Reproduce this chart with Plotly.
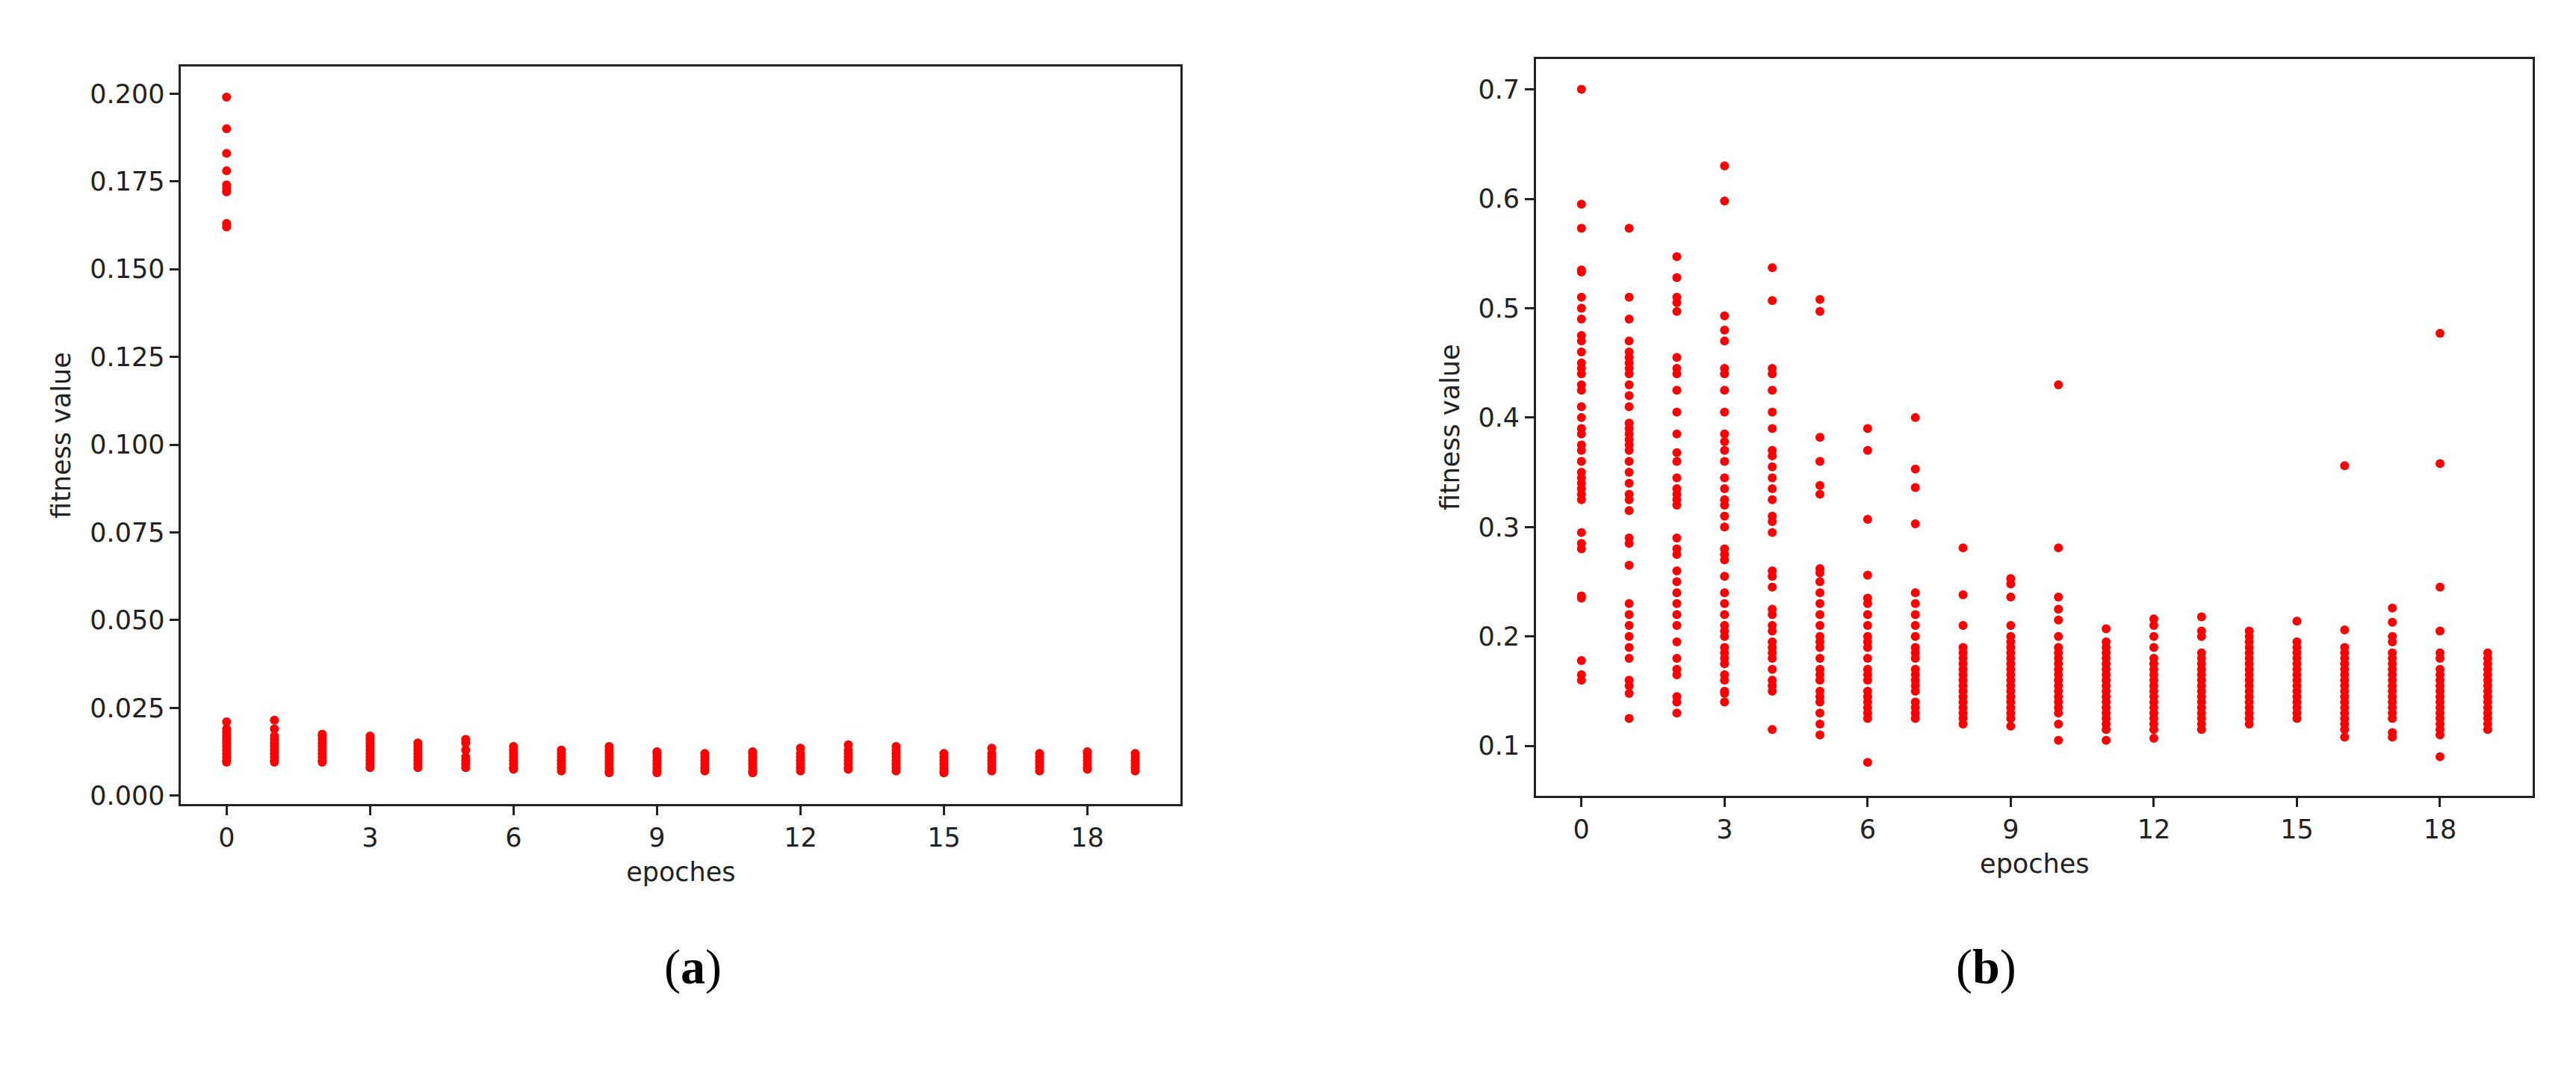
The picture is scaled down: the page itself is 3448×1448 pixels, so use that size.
import plotly.graph_objects as go

# (a) fitness values per epoch
fit_a = {
    0: [0.199, 0.190, 0.183, 0.178, 0.174, 0.173, 0.172, 0.163, 0.162,
        0.021, 0.019, 0.018, 0.017, 0.016, 0.015, 0.014, 0.013, 0.012, 0.011, 0.010, 0.0095],
    1: [0.0215, 0.019, 0.017, 0.016, 0.015, 0.014, 0.013, 0.012, 0.011, 0.010, 0.0095],
    2: [0.0175, 0.017, 0.016, 0.015, 0.014, 0.013, 0.012, 0.011, 0.010, 0.0095],
    3: [0.017, 0.016, 0.015, 0.014, 0.013, 0.012, 0.011, 0.010, 0.009, 0.008],
    4: [0.015, 0.014, 0.013, 0.012, 0.011, 0.010, 0.009, 0.008],
    5: [0.016, 0.015, 0.013, 0.011, 0.010, 0.009, 0.008],
    6: [0.014, 0.013, 0.012, 0.011, 0.010, 0.009, 0.008, 0.0075],
    7: [0.013, 0.012, 0.011, 0.010, 0.009, 0.008, 0.007],
    8: [0.014, 0.013, 0.012, 0.011, 0.010, 0.009, 0.008, 0.007, 0.0065],
    9: [0.0125, 0.012, 0.011, 0.010, 0.009, 0.008, 0.007, 0.0065],
    10: [0.012, 0.011, 0.010, 0.009, 0.008, 0.007],
    11: [0.0125, 0.012, 0.011, 0.010, 0.009, 0.008, 0.007, 0.0065],
    12: [0.0135, 0.012, 0.011, 0.010, 0.009, 0.008, 0.007],
    13: [0.0145, 0.013, 0.012, 0.011, 0.010, 0.009, 0.008, 0.0075],
    14: [0.014, 0.013, 0.012, 0.011, 0.010, 0.009, 0.008, 0.007],
    15: [0.012, 0.011, 0.010, 0.009, 0.008, 0.007, 0.0065],
    16: [0.0135, 0.012, 0.011, 0.010, 0.009, 0.008, 0.007],
    17: [0.012, 0.011, 0.010, 0.009, 0.008, 0.007],
    18: [0.0125, 0.012, 0.011, 0.010, 0.009, 0.008, 0.0075],
    19: [0.012, 0.011, 0.010, 0.009, 0.008, 0.007],
}

# (b) fitness values per epoch
fit_b = {
    0: [0.70, 0.595, 0.573, 0.535, 0.533, 0.51, 0.50, 0.49, 0.475, 0.47, 0.46, 0.45, 0.445, 0.44,
        0.43, 0.425, 0.41, 0.40, 0.39, 0.385, 0.375, 0.37, 0.36, 0.35, 0.345, 0.34, 0.335, 0.33,
        0.325, 0.295, 0.285, 0.28, 0.237, 0.235, 0.178, 0.165, 0.16],
    1: [0.573, 0.51, 0.49, 0.47, 0.46, 0.455, 0.45, 0.445, 0.44, 0.43, 0.42, 0.41, 0.395, 0.39,
        0.385, 0.38, 0.375, 0.37, 0.36, 0.35, 0.34, 0.33, 0.325, 0.315, 0.29, 0.285, 0.265, 0.23,
        0.22, 0.21, 0.20, 0.19, 0.18, 0.16, 0.155, 0.148, 0.125],
    2: [0.547, 0.528, 0.51, 0.505, 0.497, 0.455, 0.445, 0.44, 0.425, 0.405, 0.385, 0.368, 0.36,
        0.345, 0.335, 0.33, 0.325, 0.32, 0.29, 0.28, 0.275, 0.26, 0.25, 0.24, 0.23, 0.22, 0.21,
        0.195, 0.18, 0.17, 0.165, 0.145, 0.14, 0.13],
    3: [0.63, 0.598, 0.493, 0.48, 0.47, 0.445, 0.44, 0.425, 0.405, 0.385, 0.378, 0.37, 0.36, 0.345,
        0.335, 0.325, 0.32, 0.31, 0.30, 0.28, 0.275, 0.27, 0.255, 0.24, 0.23, 0.22, 0.21, 0.205,
        0.20, 0.19, 0.185, 0.18, 0.175, 0.165, 0.16, 0.15, 0.148, 0.14],
    4: [0.537, 0.507, 0.445, 0.44, 0.425, 0.405, 0.39, 0.37, 0.365, 0.355, 0.345, 0.335, 0.325,
        0.31, 0.305, 0.295, 0.26, 0.255, 0.245, 0.225, 0.22, 0.21, 0.205, 0.195, 0.19, 0.185,
        0.18, 0.17, 0.16, 0.155, 0.15, 0.115],
    5: [0.508, 0.497, 0.382, 0.36, 0.338, 0.33, 0.262, 0.258, 0.25, 0.24, 0.23, 0.22, 0.21, 0.20,
        0.195, 0.19, 0.18, 0.17, 0.165, 0.16, 0.15, 0.145, 0.14, 0.13, 0.12, 0.11],
    6: [0.39, 0.37, 0.307, 0.256, 0.235, 0.23, 0.22, 0.21, 0.20, 0.195, 0.19, 0.18, 0.17, 0.165,
        0.16, 0.15, 0.145, 0.14, 0.135, 0.13, 0.125, 0.085],
    7: [0.40, 0.353, 0.336, 0.303, 0.24, 0.23, 0.22, 0.21, 0.20, 0.19, 0.185, 0.18, 0.17, 0.165,
        0.16, 0.155, 0.15, 0.14, 0.135, 0.13, 0.125],
    8: [0.281, 0.238, 0.21, 0.19, 0.185, 0.18, 0.175, 0.17, 0.165, 0.16, 0.155, 0.15, 0.145, 0.14,
        0.135, 0.13, 0.125, 0.12],
    9: [0.253, 0.248, 0.236, 0.21, 0.20, 0.195, 0.19, 0.185, 0.18, 0.175, 0.17, 0.165, 0.16, 0.155,
        0.15, 0.145, 0.14, 0.135, 0.13, 0.125, 0.118],
    10: [0.43, 0.281, 0.236, 0.225, 0.215, 0.20, 0.19, 0.185, 0.18, 0.175, 0.17, 0.165, 0.16, 0.155,
         0.15, 0.145, 0.14, 0.135, 0.13, 0.12, 0.105],
    11: [0.207, 0.195, 0.19, 0.185, 0.18, 0.175, 0.17, 0.165, 0.16, 0.155, 0.15, 0.145, 0.14, 0.135,
         0.13, 0.125, 0.12, 0.115, 0.105],
    12: [0.216, 0.21, 0.20, 0.19, 0.18, 0.175, 0.17, 0.165, 0.16, 0.155, 0.15, 0.145, 0.14, 0.135,
         0.13, 0.125, 0.12, 0.115, 0.107],
    13: [0.218, 0.205, 0.20, 0.185, 0.18, 0.175, 0.17, 0.165, 0.16, 0.155, 0.15, 0.145, 0.14, 0.135,
         0.13, 0.125, 0.12, 0.115],
    14: [0.205, 0.20, 0.195, 0.19, 0.185, 0.18, 0.175, 0.17, 0.165, 0.16, 0.155, 0.15, 0.145, 0.14,
         0.135, 0.13, 0.125, 0.12],
    15: [0.214, 0.195, 0.19, 0.185, 0.18, 0.175, 0.17, 0.165, 0.16, 0.155, 0.15, 0.145, 0.14, 0.135,
         0.13, 0.125],
    16: [0.356, 0.206, 0.19, 0.185, 0.18, 0.175, 0.17, 0.165, 0.16, 0.155, 0.15, 0.145, 0.14, 0.135,
         0.13, 0.125, 0.12, 0.115, 0.108],
    17: [0.226, 0.213, 0.20, 0.195, 0.185, 0.18, 0.175, 0.17, 0.165, 0.16, 0.155, 0.15, 0.145, 0.14,
         0.135, 0.13, 0.125, 0.112, 0.108],
    18: [0.477, 0.358, 0.245, 0.205, 0.185, 0.18, 0.17, 0.165, 0.16, 0.155, 0.15, 0.145, 0.14, 0.135,
         0.13, 0.125, 0.12, 0.115, 0.11, 0.09],
    19: [0.185, 0.18, 0.175, 0.17, 0.165, 0.16, 0.155, 0.15, 0.145, 0.14, 0.135, 0.13, 0.125, 0.12,
         0.115],
}

x_ticks = [0, 3, 6, 9, 12, 15, 18]
y_ticks_a = [0.0, 0.025, 0.05, 0.075, 0.1, 0.125, 0.15, 0.175, 0.2]
y_ticks_b = [0.1, 0.2, 0.3, 0.4, 0.5, 0.6, 0.7]


def flatten(d):
    xs, ys = [], []
    for k, vals in d.items():
        xs += [k] * len(vals)
        ys += vals
    return xs, ys


fig = go.Figure()
xa, ya = flatten(fit_a)
xb, yb = flatten(fit_b)
fig.add_trace(go.Scatter(x=xa, y=ya, mode='markers', xaxis='x', yaxis='y',
                         marker=dict(color='red', size=12), showlegend=False))
fig.add_trace(go.Scatter(x=xb, y=yb, mode='markers', xaxis='x2', yaxis='y2',
                         marker=dict(color='red', size=12), showlegend=False))

font = dict(family='DejaVu Sans', size=35, color='#222')
ax = dict(showline=True, mirror=True, linecolor='#222', linewidth=3, ticks='outside',
          ticklen=12, tickwidth=3, tickcolor='#222', showgrid=False, zeroline=False,
          tickfont=font, title_font=font)

fig.update_layout(
    width=3448, height=1448, margin=dict(l=0, r=0, t=0, b=0),
    plot_bgcolor='white', paper_bgcolor='white',
    xaxis=dict(ax, domain=[0.068, 0.456], range=[-0.95, 19.95], tickvals=x_ticks,
               title_text='epoches', anchor='y'),
    yaxis=dict(ax, domain=[0.258, 0.944], range=[-0.0025, 0.2078], tickvals=y_ticks_a,
               tickformat='.3f', title_text='fitness value', anchor='x'),
    xaxis2=dict(ax, domain=[0.594, 0.981], range=[-0.95, 19.95], tickvals=x_ticks,
                title_text='epoches', anchor='y2'),
    yaxis2=dict(ax, domain=[0.266, 0.951], range=[0.0544, 0.728], tickvals=y_ticks_b,
                tickformat='.1f', title_text='fitness value', anchor='x2'),
)

for xpos, lab in [(0.255, 'a'), (0.781, 'b')]:
    fig.add_annotation(x=xpos, y=0.08, xref='paper', yref='paper', showarrow=False,
                       text='(<b>' + lab + '</b>)',
                       font=dict(family='Liberation Serif', size=66, color='black'))

fig.write_html("out.html")
